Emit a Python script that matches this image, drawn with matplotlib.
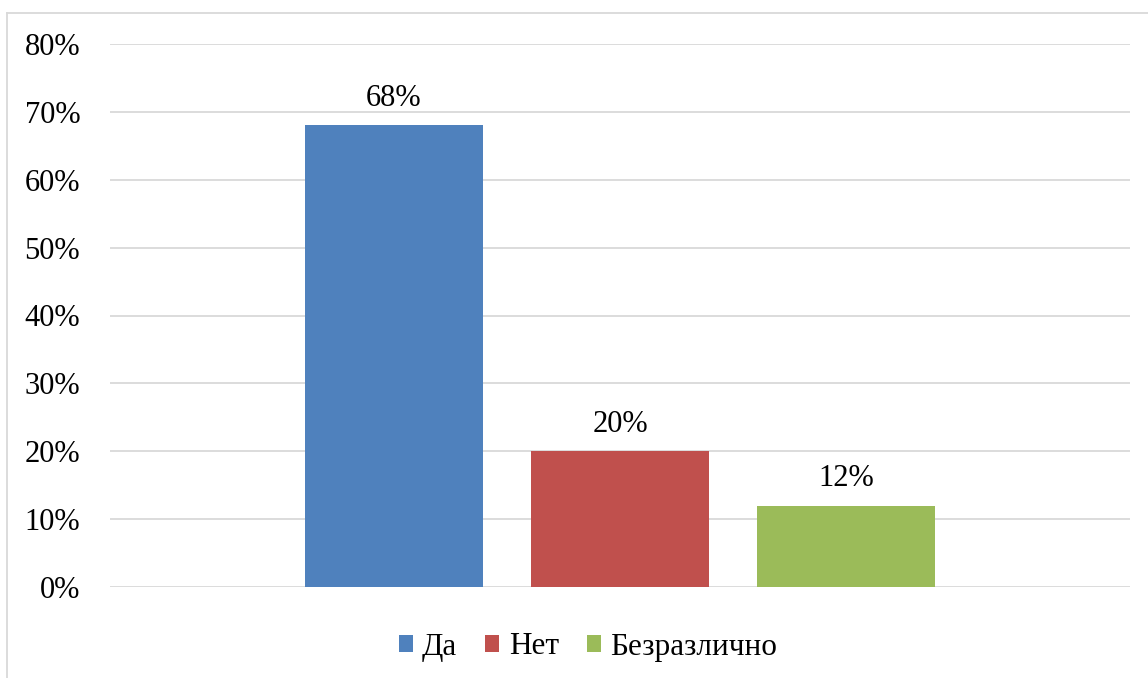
import matplotlib.pyplot as plt
from matplotlib.lines import Line2D
from matplotlib.patches import Patch

# data
categories = ['Да', 'Нет', 'Безразлично']
values = [68, 20, 12]
colors = ['#4F81BD', '#C0504D', '#9BBB59']
yticks = [0, 10, 20, 30, 40, 50, 60, 70, 80]

plt.rcParams['font.family'] = ['Liberation Serif', 'DejaVu Serif']

fig = plt.figure(figsize=(11.48, 6.78), dpi=100)
ax = fig.add_axes([110/1148, 1-587/678, 1020/1148, (587-44)/678])

bw = 178/1020
step = 226/1020
for i, (c, v, col) in enumerate(zip(categories, values, colors)):
    xpos = (i - 1) * step
    ax.bar(xpos, v, width=bw, color=col, label=c, zorder=3)
    ax.text(xpos, v + 1.8, f'{v}%', ha='center', va='bottom', fontsize=22)

ax.set_xlim(-0.5, 0.5)
ax.set_ylim(0, 80)
ax.set_yticks(yticks)
ax.set_yticklabels([f'{t}%' for t in yticks], fontsize=22)
ax.set_xticks([])
ax.tick_params(axis='y', length=0, pad=21.5)
ax.yaxis.grid(True, color='#d9d9d9', linewidth=1.3, zorder=0)
for s in ax.spines.values():
    s.set_visible(False)

handles = [Patch(facecolor=col) for col in colors]
fig.legend(handles, categories, loc='center', bbox_to_anchor=(0.5 + 14/1148, 1-647/678),
           ncol=3, frameon=False, fontsize=22.5, handlelength=0.45, handleheight=0.45,
           handletextpad=0.3, columnspacing=0.9)

# outer chart frame
fig.add_artist(Line2D([7/1148, 7/1148], [0, 1-13/678], color='#d9d9d9', lw=1.3))
fig.add_artist(Line2D([7/1148, 1], [1-13/678, 1-13/678], color='#d9d9d9', lw=1.3))

fig.savefig('out.png', dpi=100)
